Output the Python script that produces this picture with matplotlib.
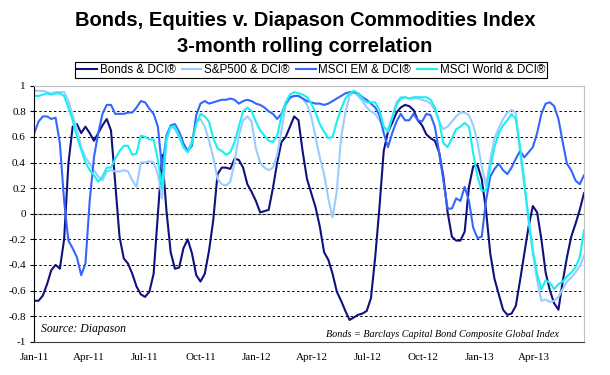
import matplotlib
matplotlib.use("Agg")
import matplotlib.pyplot as plt
import matplotlib.dates as mdates
import pandas as pd
from matplotlib.lines import Line2D

# weekly observations starting 1 Jan 2011
start_date = "2011-01-01"
n_weeks = 130

bonds = [-0.68, -0.68, -0.64, -0.55, -0.44, -0.40, -0.43, -0.20, 0.39, 0.68,
         0.70, 0.63, 0.68, 0.63, 0.57, 0.63, 0.69, 0.74, 0.65, 0.23,
         -0.18, -0.35, -0.39, -0.47, -0.57, -0.63, -0.65, -0.61, -0.47, 0.00,
         0.46, 0.03, -0.30, -0.43, -0.42, -0.27, -0.20, -0.31, -0.48, -0.53,
         -0.47, -0.29, -0.05, 0.31, 0.36, 0.36, 0.35, 0.43, 0.42, 0.36,
         0.23, 0.17, 0.10, 0.01, 0.02, 0.03, 0.20, 0.40, 0.56, 0.60,
         0.68, 0.76, 0.73, 0.48, 0.27, 0.16, 0.05, -0.10, -0.30, -0.36,
         -0.47, -0.61, -0.68, -0.76, -0.83, -0.81, -0.79, -0.78, -0.76, -0.66,
         -0.34, 0.05, 0.49, 0.64, 0.71, 0.79, 0.83, 0.85, 0.84, 0.81,
         0.73, 0.69, 0.62, 0.59, 0.57, 0.48, 0.29, 0.01, -0.18, -0.21,
         -0.21, -0.14, 0.21, 0.37, 0.38, 0.27, 0.03, -0.31, -0.51, -0.63,
         -0.75, -0.79, -0.78, -0.72, -0.52, -0.31, -0.10, 0.06, 0.01, -0.20,
         -0.46, -0.60, -0.70, -0.75, -0.53, -0.34, -0.18, -0.08, 0.03, 0.16]

sp500 = [0.96, 0.96, 0.96, 0.95, 0.94, 0.95, 0.95, 0.95, 0.88, 0.77,
         0.66, 0.52, 0.44, 0.39, 0.34, 0.29, 0.26, 0.33, 0.34, 0.33,
         0.33, 0.34, 0.33, 0.26, 0.21, 0.40, 0.40, 0.41, 0.40, 0.31,
         0.12, 0.56, 0.68, 0.66, 0.60, 0.52, 0.49, 0.57, 0.72, 0.74,
         0.68, 0.57, 0.44, 0.27, 0.23, 0.22, 0.25, 0.40, 0.61, 0.73,
         0.76, 0.72, 0.51, 0.40, 0.36, 0.34, 0.36, 0.46, 0.65, 0.85,
         0.90, 0.92, 0.92, 0.90, 0.85, 0.76, 0.60, 0.44, 0.31, 0.12,
         -0.03, 0.18, 0.60, 0.79, 0.92, 0.95, 0.92, 0.88, 0.83, 0.80,
         0.78, 0.73, 0.67, 0.66, 0.76, 0.87, 0.91, 0.91, 0.90, 0.90,
         0.90, 0.89, 0.88, 0.86, 0.81, 0.72, 0.66, 0.68, 0.72, 0.76,
         0.79, 0.79, 0.77, 0.69, 0.56, 0.37, 0.22, 0.42, 0.59, 0.67,
         0.74, 0.79, 0.81, 0.79, 0.48, 0.22, -0.05, -0.31, -0.52, -0.68,
         -0.67, -0.69, -0.68, -0.65, -0.59, -0.53, -0.50, -0.46, -0.41, -0.33]

msci_em = [0.63, 0.72, 0.76, 0.76, 0.74, 0.75, 0.55, 0.10, -0.21, -0.27,
           -0.34, -0.48, -0.39, 0.10, 0.44, 0.63, 0.78, 0.85, 0.85, 0.78,
           0.78, 0.78, 0.79, 0.79, 0.83, 0.88, 0.87, 0.82, 0.78, 0.68,
           0.35, 0.61, 0.69, 0.70, 0.64, 0.55, 0.49, 0.53, 0.77, 0.86,
           0.88, 0.86, 0.87, 0.88, 0.89, 0.89, 0.90, 0.89, 0.86, 0.88,
           0.89, 0.88, 0.86, 0.85, 0.83, 0.80, 0.78, 0.74, 0.78, 0.86,
           0.91, 0.92, 0.92, 0.90, 0.88, 0.87, 0.86, 0.86, 0.85, 0.86,
           0.88, 0.90, 0.92, 0.94, 0.95, 0.95, 0.94, 0.91, 0.89, 0.86,
           0.83, 0.77, 0.63, 0.52, 0.63, 0.72, 0.78, 0.73, 0.73, 0.78,
           0.73, 0.72, 0.78, 0.77, 0.68, 0.48, 0.26, 0.04, 0.04, 0.12,
           0.10, 0.21, 0.10, -0.11, -0.19, -0.18, 0.10, 0.29, 0.35, 0.39,
           0.34, 0.31, 0.36, 0.43, 0.49, 0.44, 0.48, 0.52, 0.63, 0.78,
           0.86, 0.87, 0.84, 0.74, 0.56, 0.39, 0.34, 0.26, 0.23, 0.30]

msci_world = [0.92, 0.92, 0.93, 0.94, 0.93, 0.94, 0.94, 0.92, 0.83, 0.73,
              0.60, 0.50, 0.40, 0.34, 0.30, 0.25, 0.29, 0.36, 0.36, 0.43,
              0.49, 0.53, 0.53, 0.46, 0.47, 0.61, 0.60, 0.58, 0.58, 0.42,
              0.20, 0.59, 0.68, 0.68, 0.61, 0.52, 0.48, 0.55, 0.70, 0.78,
              0.76, 0.72, 0.59, 0.51, 0.49, 0.46, 0.48, 0.56, 0.68, 0.80,
              0.83, 0.80, 0.72, 0.65, 0.61, 0.57, 0.56, 0.61, 0.76, 0.87,
              0.93, 0.95, 0.94, 0.93, 0.91, 0.86, 0.79, 0.70, 0.64, 0.59,
              0.60, 0.72, 0.82, 0.90, 0.94, 0.96, 0.94, 0.90, 0.87, 0.87,
              0.87, 0.81, 0.68, 0.64, 0.75, 0.85, 0.90, 0.91, 0.90, 0.91,
              0.91, 0.91, 0.91, 0.89, 0.83, 0.72, 0.55, 0.52, 0.59, 0.66,
              0.68, 0.71, 0.68, 0.47, 0.29, 0.18, 0.18, 0.36, 0.52, 0.63,
              0.69, 0.73, 0.78, 0.74, 0.52, 0.25, -0.05, -0.29, -0.47, -0.59,
              -0.52, -0.54, -0.59, -0.55, -0.53, -0.49, -0.46, -0.42, -0.34, -0.13]

series_labels = ["Bonds & DCI®", "S&P500 & DCI®", "MSCI EM & DCI®", "MSCI World & DCI®"]
series_colors = ["#10107f", "#99ccff", "#3366ff", "#19f0f0"]
yticks = [-1, -0.8, -0.6, -0.4, -0.2, 0, 0.2, 0.4, 0.6, 0.8, 1]
ytick_labels = ["-1", "-0.8", "-0.6", "-0.4", "-0.2", "0", "0.2", "0.4", "0.6", "0.8", "1"]

dates = pd.date_range(start_date, periods=n_weeks, freq="7D")

W, H = 610, 375
fig = plt.figure(figsize=(W / 100, H / 100), dpi=100)
ax = fig.add_axes([34.3 / W, 1 - 341.7 / H, (584 - 34.3) / W, (341.7 - 85.7) / H])

for vals, lab, col in zip([bonds, sp500, msci_em, msci_world], series_labels, series_colors):
    ax.plot(dates, vals, color=col, lw=1.5, label=lab, solid_joinstyle="round")

ax.set_ylim(-1, 1)
ax.set_xlim(pd.Timestamp("2011-01-01"), dates[-1])
ax.set_yticks(yticks)
ax.set_yticklabels(ytick_labels, fontfamily="Liberation Serif", fontsize=8)
ax.axhline(0, color="#909090", lw=0.9, zorder=0)
for yv in yticks[1:-1]:
    ax.axhline(yv, color="black", lw=0.7, ls=(0, (2.5, 2.5)), zorder=0.5)

ax.xaxis.set_major_locator(mdates.MonthLocator(bymonth=[1, 4, 7, 10]))
ax.xaxis.set_major_formatter(mdates.DateFormatter("%b-%y"))
for t in ax.get_xticklabels():
    t.set_fontfamily("Liberation Serif")
    t.set_fontsize(8)
ax.tick_params(axis="x", length=0, pad=8)
ax.tick_params(axis="y", length=3, width=0.8, pad=3, direction="out")

ax.spines["left"].set_color("black")
ax.spines["bottom"].set_color("#404040")
ax.spines["top"].set_color("#c0c0c0")
ax.spines["right"].set_color("#c0c0c0")
for s in ax.spines.values():
    s.set_linewidth(0.8)

ax.text(0.013, 0.05, "Source: Diapason", transform=ax.transAxes, fontsize=8.5,
        fontstyle="italic", fontfamily="Liberation Serif", va="center", ha="left")
ax.text(0.955, 0.03, "Bonds = Barclays Capital Bond Composite Global Index",
        transform=ax.transAxes, fontsize=7.3, fontstyle="italic",
        fontfamily="Liberation Serif", va="center", ha="right")

fig.text(0.5, 1 - 21 / H, "Bonds, Equities v. Diapason Commodities Index",
         ha="center", va="center", fontsize=14.5, fontweight="bold", fontfamily="Liberation Sans")
fig.text(0.5, 1 - 46 / H, "3-month rolling correlation",
         ha="center", va="center", fontsize=14.5, fontweight="bold", fontfamily="Liberation Sans")

handles = [Line2D([0], [0], color=c, lw=1.5) for c in series_colors]
leg = fig.legend(handles, series_labels, loc="center", bbox_to_anchor=(0.51, 1 - 70 / H),
                 ncol=4, frameon=True, fancybox=False, edgecolor="black", framealpha=1,
                 prop={"family": "Liberation Sans", "size": 8.4}, handlelength=1.7,
                 handletextpad=0.25, columnspacing=0.5, borderpad=0.2, borderaxespad=0)
leg.get_frame().set_linewidth(0.8)

fig.savefig("out.png", dpi=100)
